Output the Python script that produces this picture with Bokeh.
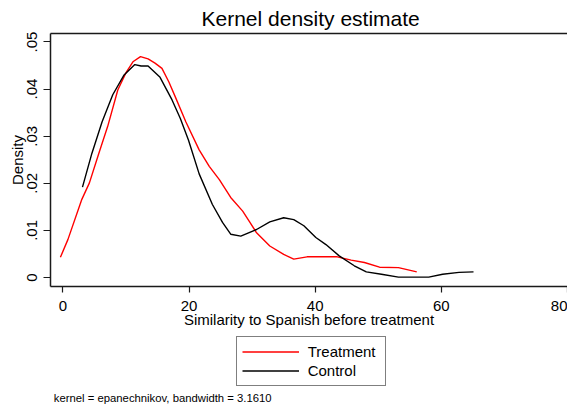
from bokeh.plotting import figure
from bokeh.layouts import column
from bokeh.models import Range1d, LinearAxis, FixedTicker, Legend, LegendItem, Title, Label
from bokeh.embed import file_html
from bokeh.resources import INLINE

# Data
treat_x = [-0.4, 0.8, 3.0, 4.2, 5.7, 7.1, 8.7, 10.0, 11.1, 12.3, 13.5, 14.6, 15.7, 16.8,
           17.8, 19.5, 21.6, 23.2, 24.8, 26.6, 28.5, 29.6, 30.7, 32.8, 35.0, 36.6, 38.7,
           40.3, 43.5, 45.7, 47.8, 50.2, 53.2, 56.1]
treat_y = [0.0043, 0.0081, 0.0166, 0.0201, 0.0264, 0.0321, 0.0398, 0.0435, 0.0458, 0.0469,
           0.0464, 0.0455, 0.0444, 0.0415, 0.0384, 0.0330, 0.0271, 0.0236, 0.0208, 0.0170,
           0.0141, 0.0118, 0.0095, 0.0067, 0.0049, 0.0039, 0.0044, 0.0044, 0.0044, 0.0037,
           0.0032, 0.0022, 0.0021, 0.0012]

ctrl_x = [3.1, 4.6, 6.2, 7.9, 9.7, 11.4, 12.4, 13.5, 15.4, 17.3, 18.6, 19.9, 21.6, 23.7,
          25.3, 26.6, 28.2, 30.7, 32.8, 35.0, 36.6, 38.2, 40.1, 41.7, 43.8, 46.2, 48.1,
          50.5, 53.2, 58.0, 60.2, 62.8, 65.1]
ctrl_y = [0.0192, 0.0264, 0.0330, 0.0388, 0.0430, 0.0452, 0.0449, 0.0449, 0.0425, 0.0377,
          0.0338, 0.0292, 0.0220, 0.0155, 0.0117, 0.0092, 0.0088, 0.0102, 0.0118, 0.0127,
          0.0123, 0.0110, 0.0085, 0.0070, 0.0046, 0.0025, 0.0012, 0.0007, 0.0001, 0.0001,
          0.0007, 0.0011, 0.0012]

x_ticks = [0, 20, 40, 60, 80]
y_ticks = [0, 0.01, 0.02, 0.03, 0.04, 0.05]
y_tick_labels = ["0", ".01", ".02", ".03", ".04", ".05"]
series_names = ["Treatment", "Control"]
series_colors = ["#ff0000", "#000000"]

title_text = "Kernel density estimate"
x_title = "Similarity to Spanish before treatment"
y_title = "Density"
note_text = "kernel = epanechnikov, bandwidth = 3.1610"

FONT = "Liberation Sans"
AXC = "#1a1a1a"

xr = Range1d(-1.97, 80.0)

# ---------------- main plot ----------------
p = figure(width=567, height=330, output_backend="svg", toolbar_location=None,
           x_range=xr, y_range=Range1d(-0.0019, 0.0518),
           min_border_left=50, min_border_right=0, min_border_top=0, min_border_bottom=0)
p.outline_line_color = None
p.xgrid.visible = False
p.ygrid.visible = False
p.background_fill_color = "white"
p.border_fill_color = "white"

xa = p.xaxis[0]
xa.ticker = FixedTicker(ticks=x_ticks)
xa.minor_tick_line_color = None
xa.major_tick_in = 0
xa.major_tick_out = 6
xa.axis_line_color = AXC
xa.axis_line_width = 1.5
xa.major_tick_line_color = AXC
xa.major_tick_line_width = 1.2
xa.major_label_text_font = FONT
xa.major_label_text_font_size = "15px"
xa.major_label_text_color = "black"
xa.major_label_standoff = 8
xa.axis_label = x_title
xa.axis_label_text_font = FONT
xa.axis_label_text_font_size = "15px"
xa.axis_label_text_font_style = "normal"
xa.axis_label_text_color = "black"
xa.axis_label_standoff = -3

ya = p.yaxis[0]
ya.ticker = FixedTicker(ticks=y_ticks)
ya.major_label_overrides = {t: l for t, l in zip(y_ticks, y_tick_labels)}
ya.minor_tick_line_color = None
ya.major_tick_in = 0
ya.major_tick_out = 7
ya.axis_line_color = AXC
ya.axis_line_width = 1.5
ya.major_tick_line_color = AXC
ya.major_tick_line_width = 1.2
ya.major_label_orientation = "vertical"
ya.major_label_text_font = FONT
ya.major_label_text_font_size = "15px"
ya.major_label_text_color = "black"
ya.major_label_standoff = 6
ya.axis_label = y_title
ya.axis_label_text_font = FONT
ya.axis_label_text_font_size = "15px"
ya.axis_label_text_font_style = "normal"
ya.axis_label_text_color = "black"
ya.axis_label_standoff = -1

top = LinearAxis(ticker=FixedTicker(ticks=[]), major_tick_out=0, major_tick_in=0,
                 minor_tick_out=0, minor_tick_in=0, major_label_text_font_size="0px",
                 major_label_standoff=0, axis_line_color=AXC, axis_line_width=1.5)
p.add_layout(top, "above")
p.add_layout(Title(text=title_text, align="left", offset=151, standoff=8,
                   text_font=FONT, text_font_size="21px", text_font_style="normal",
                   text_color="black"), "above")

r_t = p.line(treat_x, treat_y, line_color=series_colors[0], line_width=1.4)
r_c = p.line(ctrl_x, ctrl_y, line_color=series_colors[1], line_width=1.4)

# ---------------- legend + note strip (shares the x scale) ----------------
q = figure(width=567, height=75, output_backend="svg", toolbar_location=None,
           x_range=xr, y_range=Range1d(0, 75),
           x_axis_location=None, y_axis_location=None,
           min_border_left=50, min_border_right=0, min_border_top=0, min_border_bottom=0)
q.outline_line_color = None
q.xgrid.visible = False
q.ygrid.visible = False
q.background_fill_color = "white"
q.border_fill_color = "white"

k_t = q.line(treat_x, treat_y, line_color=series_colors[0], line_width=1.4, visible=False)
k_c = q.line(ctrl_x, ctrl_y, line_color=series_colors[1], line_width=1.4, visible=False)

legend = Legend(items=[LegendItem(label=series_names[0], renderers=[k_t]),
                       LegendItem(label=series_names[1], renderers=[k_c])],
                location=(185.7, 19.3))
legend.border_line_color = "black"
legend.border_line_width = 1
legend.background_fill_color = "white"
legend.background_fill_alpha = 1
legend.inactive_fill_alpha = 0
legend.padding = 5
legend.spacing = 0
legend.margin = 0
legend.glyph_width = 57
legend.glyph_height = 19
legend.label_height = 19
legend.label_width = 72
legend.label_standoff = 9
legend.label_text_font = FONT
legend.label_text_font_size = "15px"
legend.label_text_color = "black"
legend.label_text_baseline = "middle"
q.add_layout(legend)

q.add_layout(Label(x=-1.44, y=8, text=note_text, text_align="left",
                   text_baseline="middle", text_font=FONT, text_font_size="11.3px",
                   text_color="black"))

open("out.html", "w").write(file_html(column(p, q, spacing=0), INLINE))
